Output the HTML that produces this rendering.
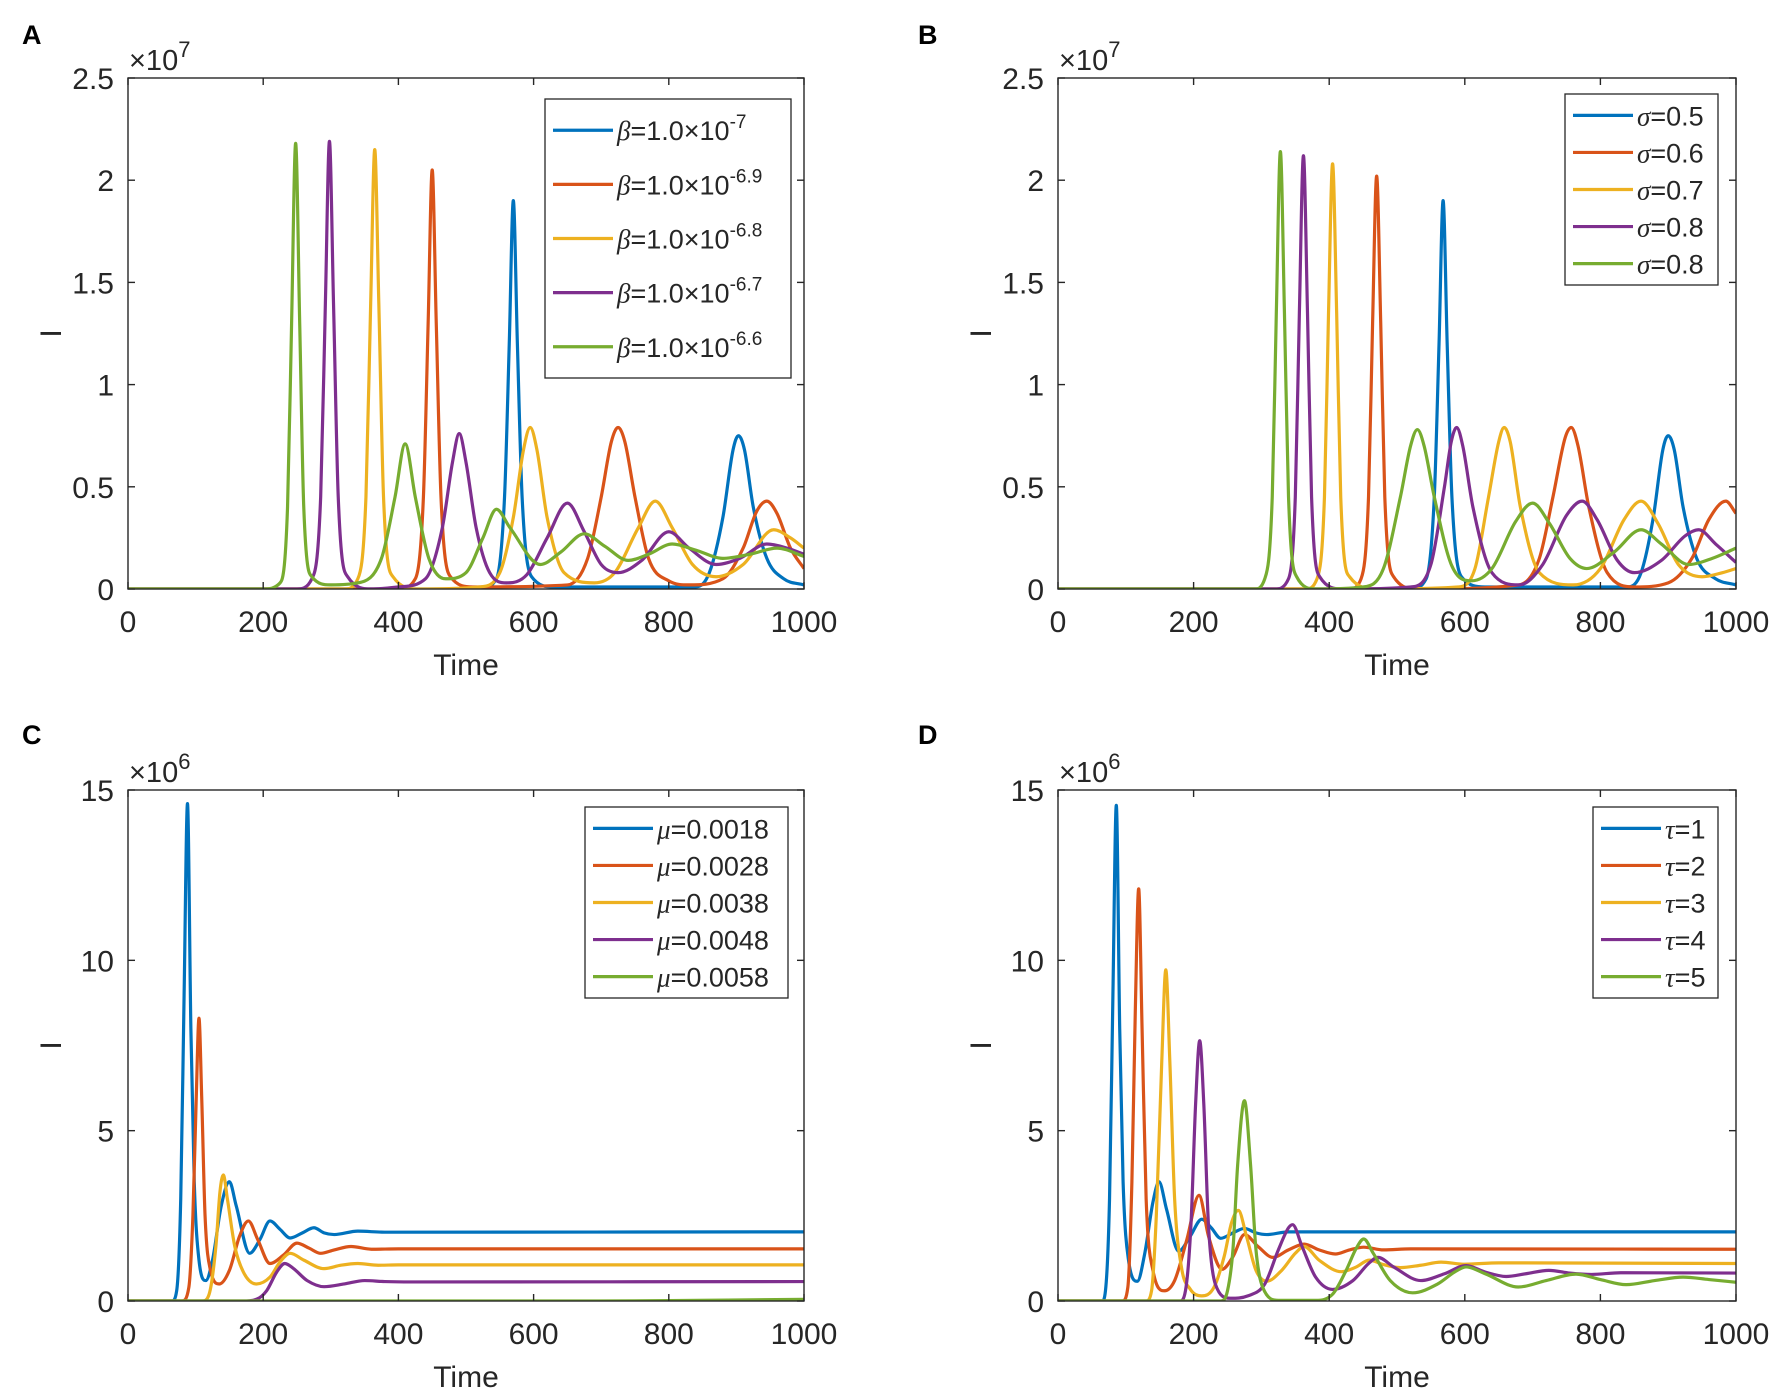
<!DOCTYPE html>
<html><head><meta charset="utf-8"><style>
html,body{margin:0;padding:0;background:#fff;}
svg{display:block;font-family:"Liberation Sans",sans-serif;}
</style></head><body>
<svg id="fig" width="1772" height="1391" viewBox="0 0 1772 1391" xmlns="http://www.w3.org/2000/svg"></svg>
<script>
// ---- data ----
const colors = ["#0072BD","#D95319","#EDB120","#7E2F8E","#77AC30"];
const xTicks = [0,200,400,600,800,1000];
const yTicksAB = [0,0.5,1,1.5,2,2.5];
const yTickLabelsAB = ["0","0.5","1","1.5","2","2.5"];
const yTicksCD = [0,5,10,15];
const yTickLabelsCD = ["0","5","10","15"];

const seriesA = [
 [[0,0],[520,0],[545,0.05],[557,0.45],[564,1.2],[570,1.9],[576,1.2],[583,0.45],[597,0.06],[630,0.01],[840,0.01],[860,0.08],[880,0.35],[895,0.68],[903,0.75],[912,0.68],[925,0.4],[945,0.15],[970,0.05],[1000,0.02]],
 [[0,0],[400,0],[425,0.05],[437,0.45],[444,1.3],[450,2.05],[456,1.3],[463,0.45],[477,0.06],[510,0.01],[650,0.02],[680,0.15],[700,0.45],[715,0.72],[725,0.79],[735,0.72],[750,0.45],[770,0.15],[800,0.04],[830,0.02],[880,0.05],[910,0.2],[930,0.38],[945,0.43],[960,0.37],[980,0.2],[1000,0.1]],
 [[0,0],[320,0],[340,0.05],[352,0.45],[359,1.4],[365,2.15],[371,1.4],[378,0.45],[392,0.06],[430,0.0],[520,0.01],[550,0.08],[570,0.35],[585,0.68],[595,0.79],[605,0.68],[620,0.35],[645,0.08],[690,0.03],[720,0.08],[755,0.3],[780,0.43],[805,0.3],[835,0.12],[870,0.06],[910,0.12],[955,0.29],[980,0.25],[1000,0.2]],
 [[0,0],[250,0],[272,0.05],[285,0.45],[292,1.4],[298,2.19],[304,1.4],[311,0.45],[325,0.06],[360,0.0],[400,0.01],[440,0.05],[465,0.3],[480,0.62],[490,0.76],[500,0.62],[515,0.3],[535,0.08],[560,0.03],[590,0.07],[620,0.25],[650,0.42],[675,0.28],[700,0.12],[725,0.08],[760,0.14],[800,0.28],[830,0.2],[870,0.12],[905,0.15],[945,0.22],[975,0.2],[1000,0.17]],
 [[0,0],[200,0],[225,0.03],[236,0.4],[242,1.3],[248,2.18],[254,1.3],[260,0.4],[272,0.06],[300,0.02],[340,0.03],[375,0.15],[395,0.45],[410,0.71],[425,0.45],[445,0.15],[470,0.05],[500,0.08],[525,0.25],[545,0.39],[565,0.3],[610,0.12],[640,0.18],[675,0.27],[705,0.21],[740,0.14],[770,0.17],[805,0.22],[840,0.19],[880,0.15],[920,0.17],[960,0.2],[1000,0.16]]
];
const seriesB = [
 [[0,0],[520,0],[543,0.05],[555,0.45],[562,1.2],[568,1.9],[574,1.2],[581,0.45],[595,0.06],[630,0.01],[840,0.01],[860,0.08],[878,0.35],[892,0.68],[900,0.75],[909,0.68],[922,0.4],[942,0.15],[970,0.05],[1000,0.02]],
 [[0,0],[430,0],[447,0.05],[458,0.45],[464,1.3],[470,2.02],[476,1.3],[482,0.45],[495,0.06],[530,0.0],[680,0.02],[710,0.15],[730,0.45],[748,0.74],[757,0.79],[767,0.7],[783,0.4],[810,0.08],[850,0.01],[900,0.03],[935,0.15],[960,0.34],[985,0.43],[1000,0.37]],
 [[0,0],[365,0],[382,0.05],[393,0.45],[399,1.35],[405,2.08],[411,1.35],[417,0.45],[430,0.06],[470,0.0],[590,0.01],[615,0.1],[635,0.45],[650,0.72],[658,0.79],[667,0.72],[682,0.4],[710,0.08],[760,0.02],[800,0.1],[835,0.34],[860,0.43],[885,0.32],[915,0.12],[950,0.06],[980,0.08],[1000,0.1]],
 [[0,0],[320,0],[340,0.05],[350,0.45],[356,1.35],[362,2.12],[368,1.35],[374,0.45],[386,0.06],[420,0.0],[520,0.01],[550,0.12],[570,0.5],[580,0.72],[588,0.79],[597,0.7],[612,0.4],[640,0.08],[680,0.02],[715,0.12],[750,0.36],[773,0.43],[795,0.34],[825,0.14],[850,0.08],[890,0.14],[925,0.26],[945,0.29],[970,0.22],[1000,0.13]],
 [[0,0],[290,0],[305,0.05],[316,0.45],[322,1.35],[328,2.14],[334,1.35],[340,0.45],[352,0.06],[380,0.0],[450,0.01],[480,0.1],[505,0.45],[520,0.7],[530,0.78],[540,0.7],[555,0.45],[580,0.12],[610,0.04],[640,0.1],[675,0.33],[700,0.42],[725,0.32],[755,0.15],[780,0.1],[820,0.18],[860,0.29],[890,0.22],[930,0.12],[965,0.15],[1000,0.2]]
];
const seriesC = [
 [[0,0],[65,0],[72,0.3],[78,3],[83,9],[88,14.6],[93,8],[98,3.5],[105,1.2],[115,0.6],[125,1.2],[138,2.8],[150,3.5],[160,2.8],[180,1.4],[195,1.8],[210,2.35],[225,2.1],[240,1.85],[258,2.0],[275,2.15],[290,2.0],[305,1.95],[340,2.05],[380,2.02],[1000,2.03]],
 [[0,0],[80,0],[90,0.4],[96,2.5],[101,6],[105,8.3],[109,6],[114,2.5],[122,0.9],[135,0.5],[150,0.9],[165,1.9],[178,2.35],[192,1.8],[210,1.1],[230,1.35],[250,1.7],[268,1.55],[285,1.4],[305,1.5],[330,1.6],[360,1.52],[400,1.53],[1000,1.53]],
 [[0,0],[110,0],[120,0.2],[130,1.6],[136,3.2],[141,3.7],[147,3.0],[158,1.6],[172,0.8],[190,0.5],[210,0.7],[225,1.15],[240,1.4],[260,1.2],[290,0.95],[315,1.05],[340,1.1],[370,1.05],[400,1.06],[1000,1.06]],
 [[0,0],[170,0],[190,0.05],[205,0.3],[220,0.85],[232,1.1],[245,0.95],[265,0.6],[290,0.42],[320,0.5],[350,0.6],[380,0.57],[420,0.56],[1000,0.57]],
 [[0,0],[600,0],[800,0.01],[1000,0.05]]
];
const seriesD = [
 [[0,0],[65,0],[70,0.3],[76,3],[81,9],[86,14.55],[91,8],[96,3.5],[104,1.2],[117,0.58],[128,1.4],[140,2.9],[149,3.5],[160,2.7],[178,1.46],[195,1.9],[212,2.4],[226,2.15],[240,1.84],[258,2.0],[275,2.13],[292,2.0],[308,1.95],[340,2.03],[1000,2.03]],
 [[0,0],[95,0],[103,0.4],[109,3.5],[114,8.5],[119,12.1],[124,8],[130,3],[140,0.9],[157,0.3],[172,0.6],[190,1.8],[208,3.1],[222,1.9],[242,0.93],[258,1.3],[275,1.95],[295,1.6],[317,1.28],[340,1.5],[363,1.67],[385,1.5],[409,1.38],[430,1.5],[451,1.58],[480,1.5],[520,1.53],[1000,1.52]],
 [[0,0],[130,0],[138,0.3],[145,2.5],[153,7],[159,9.72],[165,7],[172,3],[182,1],[195,0.35],[212,0.15],[230,0.4],[245,1.3],[256,2.3],[266,2.66],[278,1.9],[292,0.9],[308,0.58],[330,0.9],[350,1.4],[363,1.6],[385,1.2],[418,0.86],[440,1.0],[459,1.2],[480,1.07],[505,0.98],[535,1.05],[565,1.14],[600,1.08],[650,1.12],[1000,1.1]],
 [[0,0],[180,0],[188,0.3],[196,2.2],[203,5.8],[209,7.64],[215,5.8],[222,2.2],[232,0.5],[254,0.08],[280,0.15],[305,0.5],[325,1.5],[340,2.15],[346,2.24],[360,1.6],[380,0.7],[405,0.34],[435,0.6],[458,1.1],[472,1.28],[495,1.0],[535,0.6],[570,0.8],[602,1.04],[630,0.85],[661,0.72],[690,0.8],[724,0.9],[755,0.82],[787,0.78],[830,0.83],[1000,0.82]],
 [[0,0],[240,0],[250,0.3],[258,1.5],[265,4],[275,5.88],[284,4],[292,1.5],[302,0.4],[325,0.02],[380,0.02],[405,0.2],[425,0.9],[440,1.55],[451,1.82],[465,1.4],[490,0.6],[523,0.24],[560,0.5],[585,0.85],[602,1.0],[630,0.8],[679,0.41],[720,0.6],[764,0.79],[800,0.63],[838,0.48],[880,0.6],[922,0.7],[960,0.63],[1000,0.55]]
];
const legendA = [["β","=1.0×10","-7"],["β","=1.0×10","-6.9"],["β","=1.0×10","-6.8"],["β","=1.0×10","-6.7"],["β","=1.0×10","-6.6"]];
const legendB = [["σ","=0.5",""],["σ","=0.6",""],["σ","=0.7",""],["σ","=0.8",""],["σ","=0.8",""]];
const legendC = [["μ","=0.0018",""],["μ","=0.0028",""],["μ","=0.0038",""],["μ","=0.0048",""],["μ","=0.0058",""]];
const legendD = [["τ","=1",""],["τ","=2",""],["τ","=3",""],["τ","=4",""],["τ","=5",""]];

// ---- drawing ----
const NS="http://www.w3.org/2000/svg";
const svg=document.getElementById('fig');
function mk(tag,attrs,parent){const e=document.createElementNS(NS,tag);for(const k in attrs)e.setAttribute(k,attrs[k]);(parent||svg).appendChild(e);return e;}

function monotone(pts){
  const n=pts.length, xs=pts.map(p=>p[0]), ys=pts.map(p=>p[1]);
  const d=[],m=new Array(n);
  for(let i=0;i<n-1;i++)d.push((ys[i+1]-ys[i])/(xs[i+1]-xs[i]));
  m[0]=d[0];m[n-1]=d[n-2];
  for(let i=1;i<n-1;i++){ if(d[i-1]*d[i]<=0)m[i]=0; else m[i]=(d[i-1]+d[i])/2; }
  for(let i=0;i<n-1;i++){ if(d[i]===0){m[i]=0;m[i+1]=0;continue;}
    const a=m[i]/d[i],b=m[i+1]/d[i],s=a*a+b*b; if(s>9){const t=3/Math.sqrt(s);m[i]=t*a*d[i];m[i+1]=t*b*d[i];}}
  let path="M"+xs[0].toFixed(2)+","+ys[0].toFixed(2);
  for(let i=0;i<n-1;i++){const h=xs[i+1]-xs[i];
    path+="C"+(xs[i]+h/3).toFixed(2)+","+(ys[i]+m[i]*h/3).toFixed(2)+" "+(xs[i+1]-h/3).toFixed(2)+","+(ys[i+1]-m[i+1]*h/3).toFixed(2)+" "+xs[i+1].toFixed(2)+","+ys[i+1].toFixed(2);}
  return path;
}

function panel(cfg){
  const {id,L,R,T,B,ymax,yTicks,yLabels,series,legend,lg,exp,letter,lx,ly}=cfg;
  const g=mk('g',{});
  
  
  const xs=v=>L+(v/1000)*(R-L);
  const ys=v=>B-(v/ymax)*(B-T);
  const lt=mk('text',{x:lx,y:ly,'font-size':27,'font-weight':'bold',fill:'#000'},g);lt.textContent=letter;
  
  
  const clip=mk('clipPath',{id:'clip'+id},g);mk('rect',{x:L,y:T-4,width:R-L,height:B-T+4},clip);
  const lines=mk('g',{'clip-path':'url(#clip'+id+')'},g);
  series.forEach((s,i)=>{
    const p=mk('path',{d:monotone(s.map(q=>[xs(q[0]),ys(q[1])])),fill:'none',stroke:colors[i],'stroke-width':3.2,'stroke-linejoin':'round'},lines);
    
    
  });
  const ax=mk('g',{stroke:'#262626','stroke-width':1.4,fill:'none'},g);
  
  
  mk('rect',{x:L,y:T,width:R-L,height:B-T},ax);
  xTicks.forEach(v=>{const x=xs(v);mk('line',{x1:x,y1:B,x2:x,y2:B-7},ax);mk('line',{x1:x,y1:T,x2:x,y2:T+7},ax);
    const t=mk('text',{x:x,y:B+43,'font-size':30,'text-anchor':'middle',fill:'#262626',stroke:'none'},g);t.textContent=v;
    
    });
  yTicks.forEach((v,i)=>{const y=ys(v);mk('line',{x1:L,y1:y,x2:L+7,y2:y},ax);mk('line',{x1:R,y1:y,x2:R-7,y2:y},ax);
    const t=mk('text',{x:L-14,y:y+11,'font-size':30,'text-anchor':'end',fill:'#262626',stroke:'none'},g);t.textContent=yLabels[i];
    
    });
  const xl=mk('text',{x:(L+R)/2,y:B+86,'font-size':30,'text-anchor':'middle',fill:'#262626'},g);xl.textContent='Time';
  
  
  const yl=mk('text',{x:L-78,y:(T+B)/2,'font-size':30,'text-anchor':'middle',fill:'#262626',transform:'rotate(-90 '+(L-78)+' '+((T+B)/2)+')',dy:11},g);yl.textContent='I';
  
  
  const ex=mk('text',{x:L+1,y:T-8,'font-size':29,fill:'#262626'},g);
  
  
  const e1=mk('tspan',{},ex);e1.textContent='×10';const e2=mk('tspan',{dy:-13,'font-size':22},ex);e2.textContent=exp;
  const lgG=mk('g',{},g);
  
  
  mk('rect',{x:lg.x,y:lg.y,width:lg.w,height:lg.h,fill:'#fff',stroke:'#262626','stroke-width':1.3},lgG);
  legend.forEach((e,i)=>{
    const y=lg.y+lg.h*(0.112+i*0.194);
    const ent=mk('g',{},lgG);
    
    
    mk('line',{x1:lg.x+8,y1:y,x2:lg.x+68,y2:y,stroke:colors[i],'stroke-width':3.2},ent);
    const t=mk('text',{x:lg.x+72,y:y+10,'font-size':27,fill:'#262626'},ent);
    const a=mk('tspan',{'font-family':'"Liberation Serif",serif','font-style':'italic'},t);a.textContent=e[0];
    const b=mk('tspan',{},t);b.textContent=e[1];
    if(e[2]){const c=mk('tspan',{dy:-12,'font-size':19},t);c.textContent=e[2];}
  });
}

panel({id:'a',L:128,R:804,T:78,B:589,ymax:2.5,yTicks:yTicksAB,yLabels:yTickLabelsAB,series:seriesA,legend:legendA,lg:{x:545,y:99,w:246,h:279},exp:'7',letter:'A',lx:22,ly:44});
panel({id:'b',L:1058,R:1736,T:78,B:589,ymax:2.5,yTicks:yTicksAB,yLabels:yTickLabelsAB,series:seriesB,legend:legendB,lg:{x:1565,y:94,w:153,h:191},exp:'7',letter:'B',lx:918,ly:44});
panel({id:'c',L:128,R:804,T:790,B:1301,ymax:15,yTicks:yTicksCD,yLabels:yTickLabelsCD,series:seriesC,legend:legendC,lg:{x:585,y:807,w:203,h:191},exp:'6',letter:'C',lx:22,ly:744});
panel({id:'d',L:1058,R:1736,T:790,B:1301,ymax:15,yTicks:yTicksCD,yLabels:yTickLabelsCD,series:seriesD,legend:legendD,lg:{x:1593,y:807,w:125,h:191},exp:'6',letter:'D',lx:918,ly:744});
</script>
</body></html>
